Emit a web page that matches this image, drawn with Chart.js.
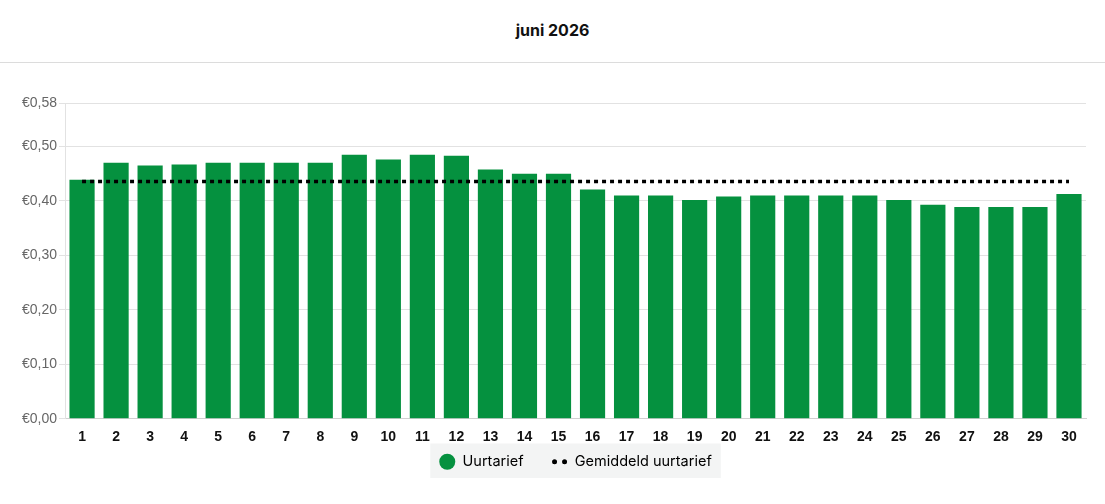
<!DOCTYPE html>
<html>
<head>
<meta charset="utf-8">
<script src="https://cdn.jsdelivr.net/npm/chart.js@4.4.1/dist/chart.umd.min.js"></script>
<style>
    html, body { margin: 0; padding: 0; background: #fff; }
    body { width: 1105px; height: 504px; overflow: hidden; font-family: Inter, "Noto Sans", sans-serif; }
    .header {
        height: 62px;
        border-bottom: 1px solid #dcdcdc;
        text-align: center;
        line-height: 60px;
        font-weight: 700;
        font-size: 16px;
        color: #111;
    }
    .chart-wrap { position: relative; width: 1105px; height: 441px; }
</style>
</head>
<body>
<div class="header">juni 2026</div>
<div class="chart-wrap"><canvas id="priceChart"></canvas></div>
<script>
// Days of the month
const days = ['1', '2', '3', '4', '5', '6', '7', '8', '9', '10',
    '11', '12', '13', '14', '15', '16', '17', '18', '19', '20',
    '21', '22', '23', '24', '25', '26', '27', '28', '29', '30'];

// Uurtarief per dag (€/kWh)
const hourlyRate = [0.439, 0.470, 0.465, 0.467, 0.470, 0.470, 0.470, 0.470, 0.485, 0.476,
    0.485, 0.483, 0.458, 0.450, 0.450, 0.421, 0.410, 0.410, 0.402, 0.408,
    0.410, 0.410, 0.410, 0.410, 0.402, 0.393, 0.389, 0.389, 0.389, 0.413];

// Gemiddeld uurtarief
const averageRate = [0.436];

const yTicks = [0, 0.10, 0.20, 0.30, 0.40, 0.50, 0.58];

const seriesLabels = ['Uurtarief', 'Gemiddeld uurtarief'];

const green = '#05913f';

const formatEuro = v => '€' + v.toFixed(2).replace('.', ',');

// centre the legend under the plot area, pull it up a bit and put a grey box behind it
const legendBackground = {
    id: 'legendBackground',
    afterUpdate(chart) {
        const legend = chart.legend;
        if (!legend) return;
        const dx = (chart.chartArea.left + chart.chartArea.right) / 2 - (legend.left + legend.right) / 2;
        const dy = -29;
        legend.left += dx;
        legend.right += dx;
        legend.top += dy;
        legend.bottom += dy;
        legend.legendHitBoxes.forEach(b => {
            b.left += dx;
            b.top += dy;
        });
    },
    beforeDraw(chart) {
        const legend = chart.legend;
        if (!legend || !legend.legendHitBoxes || !legend.legendHitBoxes.length) return;
        const boxes = legend.legendHitBoxes;
        const left = Math.min(...boxes.map(b => b.left)) - 9;
        const right = Math.max(...boxes.map(b => b.left + b.width)) + 9;
        const top = Math.min(...boxes.map(b => b.top)) - 11;
        const bottom = Math.max(...boxes.map(b => b.top + b.height)) + 9;
        const ctx = chart.ctx;
        ctx.save();
        ctx.fillStyle = '#f3f4f4';
        ctx.fillRect(left, top, right - left, bottom - top);
        ctx.restore();
    }
};

const ctx = document.getElementById('priceChart').getContext('2d');

new Chart(ctx, {
    type: 'bar',
    data: {
        labels: days,
        datasets: [{
            type: 'bar',
            label: seriesLabels[0],
            data: hourlyRate,
            backgroundColor: green,
            borderWidth: 0,
            categoryPercentage: 1,
            barPercentage: 0.74,
            order: 2
        }, {
            type: 'line',
            label: seriesLabels[1],
            data: days.map(() => averageRate[0]),
            borderColor: '#000',
            borderWidth: 3.5,
            borderDash: [4, 4],
            pointRadius: 0,
            fill: false,
            order: 1
        }]
    },
    options: {
        responsive: true,
        maintainAspectRatio: false,
        animation: false,
        layout: {
            padding: { top: 40, right: 19, left: 20, bottom: -4 }
        },
        plugins: {
            tooltip: { enabled: false },
            legend: {
                position: 'bottom',
                labels: {
                    usePointStyle: true,
                    boxHeight: 11.3,
                    pointStyleWidth: 16,
                    padding: 28,
                    color: '#222',
                    font: { size: 14.5, family: 'Inter' },
                    generateLabels(chart) {
                        return chart.data.datasets.map((ds, i) => ({
                            text: ds.label,
                            datasetIndex: i,
                            fillStyle: i === 0 ? green : '#000',
                            strokeStyle: i === 0 ? green : '#000',
                            lineWidth: i === 0 ? 0 : 5,
                            lineCap: i === 0 ? 'butt' : 'round',
                            lineDash: i === 0 ? [] : [0.01, 10],
                            lineDashOffset: i === 0 ? 0 : -3,
                            pointStyle: i === 0 ? 'circle' : 'line',
                            hidden: false
                        }));
                    }
                }
            }
        },
        scales: {
            x: {
                grid: { display: false, drawTicks: false },
                border: { display: true, color: '#d0d0d0' },
                ticks: {
                    color: '#111',
                    padding: 10,
                    maxRotation: 0,
                    autoSkip: false,
                    font: { size: 14, weight: 'bold', family: '"Liberation Sans", Arial, sans-serif' }
                }
            },
            y: {
                min: 0,
                max: 0.58,
                afterBuildTicks(axis) {
                    axis.ticks = yTicks.map(v => ({ value: v }));
                },
                grid: { color: '#e2e2e2', tickLength: 6 },
                border: { display: true, color: '#e2e2e2' },
                ticks: {
                    color: '#666',
                    padding: 2,
                    font: { size: 14, family: '"Liberation Sans", Arial, sans-serif' },
                    callback: v => formatEuro(v)
                }
            }
        }
    },
    plugins: [legendBackground]
});
</script>
</body>
</html>
